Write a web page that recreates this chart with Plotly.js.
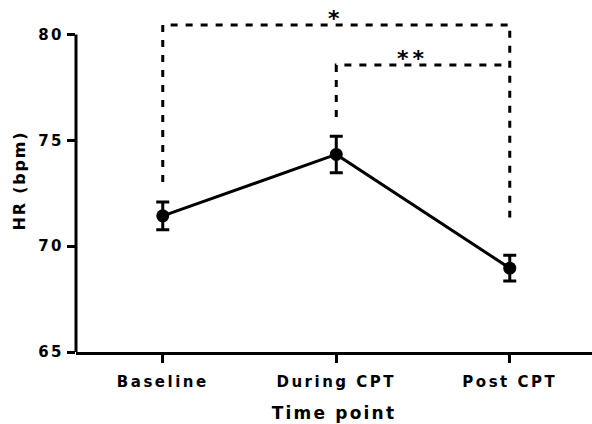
<!DOCTYPE html>
<html>
<head>
<meta charset="utf-8">
<script src="https://cdn.plot.ly/plotly-3.0.1.min.js"></script>
<style>
  html, body { margin: 0; padding: 0; background: #fff; }
  #chart { width: 592px; height: 424px; }
  /* Prism-style spaced lettering */
  #chart .xtick text, #chart .ytick text { letter-spacing: 2.5px; }
  #chart .xtitle { letter-spacing: 2.2px; }
  #chart .ytitle { letter-spacing: 1.8px; }
  #chart .annotation-text { letter-spacing: 4px; }
</style>
</head>
<body>
<div id="chart"></div>
<script>
// Heart rate at each time point (mean ± SEM)
const timePoints = ['Baseline', 'During CPT', 'Post CPT'];
const hrMean = [71.43, 74.33, 68.96];
const hrSem = [0.66, 0.86, 0.61];

// Significance brackets: x positions (category index) and y heights (bpm)
const bracketAllX = [0, 0, 2, 2];
const bracketAllY = [73.03, 80.45, 80.45, 71.35];
const bracketAllLabel = '*';
const bracketDuringPostX = [1, 1, 2];
const bracketDuringPostY = [76.1, 78.55, 78.55];
const bracketDuringPostLabel = '**';

const FONT = 'DejaVu Sans, Liberation Sans, Arial, sans-serif';
const idx = timePoints.map((_, i) => i);

const dashStyle = { color: '#000', width: 3, dash: '7px,8px' };

const traces = [
  {
    type: 'scatter', mode: 'lines', x: bracketAllX, y: bracketAllY,
    line: dashStyle, hoverinfo: 'skip', showlegend: false
  },
  {
    type: 'scatter', mode: 'lines', x: bracketDuringPostX, y: bracketDuringPostY,
    line: dashStyle, hoverinfo: 'skip', showlegend: false
  },
  {
    type: 'scatter', mode: 'lines+markers', x: idx, y: hrMean,
    line: { color: '#000', width: 3 },
    marker: { color: '#000', size: 13 },
    error_y: { type: 'data', array: hrSem, visible: true, color: '#000', thickness: 3, width: 6.5 },
    showlegend: false, cliponaxis: false
  }
];

const layout = {
  width: 592, height: 424,
  margin: { l: 76, r: 0, t: 9, b: 72 },
  paper_bgcolor: '#fff', plot_bgcolor: '#fff',
  font: { family: FONT, color: '#000' },
  xaxis: {
    range: [-0.5, 2.474],
    tickmode: 'array', tickvals: idx, ticktext: timePoints,
    showline: true, linecolor: '#000', linewidth: 3,
    ticks: 'outside', ticklen: 8, tickwidth: 3, tickcolor: '#000',
    ticklabelstandoff: 6,
    showgrid: false, zeroline: false,
    tickfont: { family: FONT, size: 15, color: '#000', weight: 'bold' },
    title: { text: 'Time point', font: { family: FONT, size: 17, color: '#000', weight: 'bold' }, standoff: 18 }
  },
  yaxis: {
    range: [65, 81.2],
    tickmode: 'array', tickvals: [65, 70, 75, 80],
    showline: false,
    ticks: 'outside', ticklen: 8, tickwidth: 3, tickcolor: '#000',
    showgrid: false, zeroline: false,
    tickfont: { family: FONT, size: 15, color: '#000', weight: 'bold' },
    title: { text: 'HR (bpm)', font: { family: FONT, size: 16, color: '#000', weight: 'bold' }, standoff: 13 }
  },
  shapes: [
    // y axis spine, stopping at the top tick
    { type: 'line', xref: 'paper', yref: 'y', x0: 0, x1: 0, y0: 65, y1: 80,
      line: { color: '#000', width: 3 }, layer: 'above' }
  ],
  annotations: [
    { x: 1, y: bracketAllY[1], xref: 'x', yref: 'y', text: bracketAllLabel, showarrow: false,
      yanchor: 'bottom', yshift: -8, font: { family: FONT, size: 22, color: '#000', weight: 'bold' } },
    { x: 1.44, y: bracketDuringPostY[1], xref: 'x', yref: 'y', text: bracketDuringPostLabel, showarrow: false,
      yanchor: 'bottom', yshift: -8, font: { family: FONT, size: 22, color: '#000', weight: 'bold' } }
  ]
};

Plotly.newPlot('chart', traces, layout, { displayModeBar: false, staticPlot: true });
</script>
</body>
</html>
